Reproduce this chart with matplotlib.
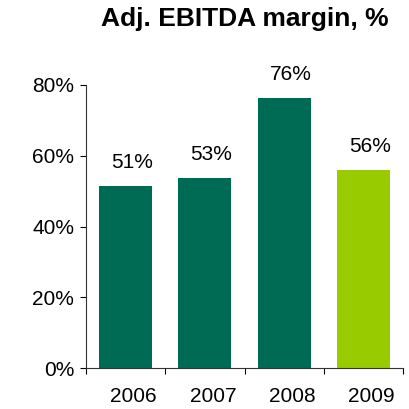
import matplotlib.pyplot as plt
import matplotlib.transforms as mtransforms

years = ['2006', '2007', '2008', '2009']
margins = [51.5, 53.8, 76.4, 56.0]
labels = ['51%', '53%', '76%', '56%']
colors = ['#006B54', '#006B54', '#006B54', '#99CC00']

plt.rcParams['font.family'] = ['Liberation Sans', 'DejaVu Sans']

fig = plt.figure(figsize=(4.09, 4.09), dpi=100)
ax = fig.add_axes([86 / 409, 1 - 368 / 409, (403 - 86) / 409, (368 - 85) / 409])

x = range(len(years))
bars = ax.bar(x, margins, width=0.67, color=colors)

for b, lab in zip(bars, labels):
    ax.annotate(lab, (b.get_x() + b.get_width() / 2, b.get_height()),
                xytext=(4.5, 13), textcoords='offset points',
                ha='center', va='baseline', fontsize=15, annotation_clip=False)

ax.set_xlim(-0.5, 3.5)
ax.set_ylim(0, 80)
ax.set_yticks([0, 20, 40, 60, 80])
ax.set_yticklabels([f'{v}%' for v in [0, 20, 40, 60, 80]])
ax.tick_params(axis='y', labelsize=15, length=4.5, width=0.8, pad=4, colors='black')

# boundaries as major ticks, year labels as minor ticks
ax.set_xticks([-0.5, 0.5, 1.5, 2.5, 3.5])
ax.set_xticklabels([])
ax.set_xticks(list(x), minor=True)
ax.set_xticklabels(years, minor=True)
ax.tick_params(axis='x', which='major', length=4.5, width=0.8)
ax.tick_params(axis='x', which='minor', length=0, labelsize=15, pad=14)
shift = mtransforms.ScaledTranslation(8 / 100, 0, fig.dpi_scale_trans)
for t in ax.xaxis.get_minorticklabels():
    t.set_transform(t.get_transform() + shift)

for s in ['top', 'right']:
    ax.spines[s].set_visible(False)
for s in ['left', 'bottom']:
    ax.spines[s].set_linewidth(0.8)
    ax.spines[s].set_color('#333333')

fig.text(245 / 409, 1 - 26 / 409, 'Adj. EBITDA margin, %', ha='center',
         va='baseline', fontsize=19, fontweight='bold')

fig.savefig('out.png', dpi=100)
